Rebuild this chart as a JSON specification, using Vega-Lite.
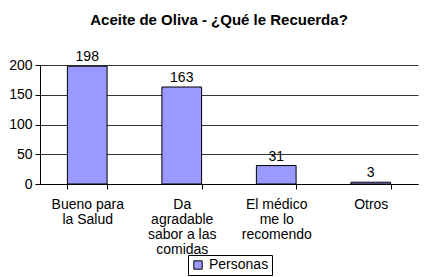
{
  "$schema": "https://vega.github.io/schema/vega-lite/v6.json",
  "width": 378,
  "height": 119,
  "autosize": {"type": "none"},
  "padding": {"left": 40, "top": 65, "right": 21, "bottom": 93},
  "background": "white",
  "config": {
    "font": "Liberation Sans",
    "view": {"stroke": null},
    "axis": {"labelFont": "Liberation Sans", "labelColor": "black", "domainColor": "black", "tickColor": "black"}
  },
  "title": {
    "text": "Aceite de Oliva - ¿Qué le Recuerda?",
    "fontSize": 15,
    "fontWeight": "bold",
    "color": "black",
    "anchor": "middle",
    "dx": -10,
    "offset": 22
  },
  "data": {
    "values": [
      {"categoria": "Bueno para la Salud", "personas": 198, "serie": "Personas"},
      {"categoria": "Da agradable sabor a las comidas", "personas": 163, "serie": "Personas"},
      {"categoria": "El médico me lo recomendo", "personas": 31, "serie": "Personas"},
      {"categoria": "Otros", "personas": 3, "serie": "Personas"}
    ]
  },
  "encoding": {
    "x": {
      "field": "categoria",
      "type": "nominal",
      "sort": null,
      "scale": {"paddingInner": 0.58, "paddingOuter": 0.29},
      "axis": {
        "title": null,
        "labelAngle": 0,
        "labelFontSize": 14,
        "labelLineHeight": 15,
        "labelPadding": 8,
        "tickBand": "extent",
        "tickSize": 5,
        "labelExpr": "datum.value == 'Bueno para la Salud' ? ['Bueno para', 'la Salud'] : datum.value == 'Da agradable sabor a las comidas' ? ['Da', 'agradable', 'sabor a las', 'comidas'] : datum.value == 'El médico me lo recomendo' ? ['El médico', 'me lo', 'recomendo'] : datum.value"
      }
    },
    "y": {
      "field": "personas",
      "type": "quantitative",
      "scale": {"domain": [0, 200]},
      "axis": {
        "title": null,
        "values": [0, 50, 100, 150, 200],
        "labelFontSize": 14,
        "labelPadding": 3,
        "tickSize": 5,
        "grid": true,
        "gridColor": "#333333",
        "gridWidth": 1
      }
    }
  },
  "layer": [
    {
      "mark": {"type": "bar", "stroke": "black", "strokeWidth": 1},
      "encoding": {
        "color": {
          "field": "serie",
          "type": "nominal",
          "scale": {"range": ["#9999FF"]},
          "legend": {
            "title": null,
            "orient": "none",
            "legendX": 148,
            "legendY": 190,
            "strokeColor": "black",
            "padding": 3,
            "labelFontSize": 14,
            "labelColor": "black",
            "symbolType": "square",
            "symbolStrokeColor": "black",
            "symbolStrokeWidth": 1,
            "symbolSize": 70,
            "fillColor": "white"
          }
        }
      }
    },
    {
      "mark": {"type": "text", "dy": -9, "fontSize": 14, "color": "black"},
      "encoding": {"text": {"field": "personas", "type": "quantitative"}}
    }
  ]
}
